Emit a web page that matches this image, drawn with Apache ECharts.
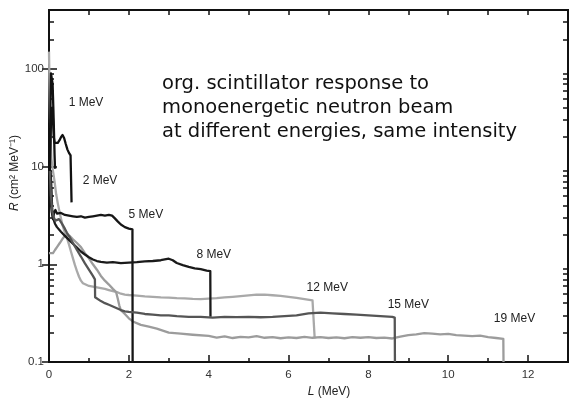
<!DOCTYPE html>
<html>
<head>
<meta charset="utf-8">
<script src="https://cdn.jsdelivr.net/npm/echarts@6/dist/echarts.min.js"></script>
<style>
  html, body { margin: 0; padding: 0; background: #fff; }
  #chart { width: 570px; height: 399px; }
</style>
</head>
<body>
<div id="chart"></div>
<script>
// Pulse-height response R(L) of an organic scintillator for monoenergetic neutrons.
// Each curve: [light output L (MeV), response R (cm^2 MeV^-1)]

const energies = ['1 MeV', '2 MeV', '5 MeV', '8 MeV', '12 MeV', '15 MeV', '19 MeV'];

const resp1 = [
  [0.02, 12], [0.04, 55], [0.05, 90], [0.06, 92], [0.08, 86], [0.09, 70], [0.10, 52],
  [0.11, 38], [0.12, 27], [0.13, 19], [0.14, 13], [0.15, 9.8], [0.16, 9.5]
];

const resp2 = [
  [0.02, 8], [0.05, 30], [0.08, 40], [0.10, 30], [0.12, 20], [0.14, 17.5], [0.18, 17],
  [0.22, 17.5], [0.26, 18.5], [0.30, 20], [0.34, 21], [0.38, 19.5], [0.42, 17],
  [0.46, 15], [0.50, 13.8], [0.54, 13], [0.56, 12.6], [0.565, 4.3]
];

const resp5 = [
  [0.02, 5], [0.04, 9], [0.06, 6], [0.08, 3.6], [0.10, 2.9], [0.13, 3.4], [0.16, 3.6],
  [0.20, 3.3], [0.25, 3.2], [0.30, 3.35], [0.35, 3.3], [0.40, 3.2], [0.50, 3.15],
  [0.60, 3.1], [0.70, 3.05], [0.80, 3.1], [0.90, 3.0], [1.00, 3.05], [1.10, 3.1],
  [1.20, 3.15], [1.30, 3.2], [1.40, 3.15], [1.50, 3.2], [1.58, 3.15], [1.65, 2.95],
  [1.72, 2.75], [1.80, 2.55], [1.90, 2.4], [2.00, 2.32], [2.09, 2.28], [2.095, 0.1]
];

const resp8 = [
  [0.02, 7], [0.04, 4.5], [0.07, 3.4], [0.10, 3.0], [0.15, 2.6], [0.20, 2.4], [0.30, 2.15],
  [0.40, 1.95], [0.50, 1.78], [0.60, 1.62], [0.70, 1.48], [0.80, 1.35], [0.90, 1.26],
  [1.00, 1.18], [1.10, 1.12], [1.20, 1.08], [1.30, 1.06], [1.45, 1.04], [1.60, 1.05],
  [1.80, 1.03], [2.00, 1.04], [2.20, 1.05], [2.40, 1.07], [2.60, 1.08], [2.80, 1.1],
  [3.00, 1.14], [3.10, 1.1], [3.20, 1.03], [3.35, 0.98], [3.50, 0.94], [3.65, 0.91],
  [3.80, 0.89], [3.95, 0.86], [4.04, 0.85], [4.045, 0.29]
];

const resp12 = [
  [0.00, 150], [0.01, 80], [0.03, 25], [0.06, 12], [0.10, 9], [0.14, 7], [0.18, 5.2],
  [0.22, 4.2], [0.28, 3.2], [0.34, 2.5], [0.40, 2.1], [0.45, 1.85], [0.50, 1.6],
  [0.55, 1.35], [0.60, 1.15], [0.65, 0.98], [0.70, 0.85], [0.75, 0.75], [0.80, 0.68],
  [0.85, 0.64], [0.90, 0.62], [1.00, 0.6], [1.10, 0.59], [1.20, 0.58], [1.30, 0.57],
  [1.40, 0.56], [1.50, 0.545], [1.60, 0.53], [1.70, 0.52], [1.80, 0.5], [1.90, 0.49],
  [2.00, 0.485], [2.20, 0.478], [2.40, 0.47], [2.60, 0.465], [2.80, 0.458], [3.00, 0.455],
  [3.20, 0.45], [3.40, 0.447], [3.60, 0.442], [3.80, 0.44], [4.00, 0.445], [4.20, 0.45],
  [4.40, 0.458], [4.60, 0.465], [4.80, 0.472], [5.00, 0.48], [5.20, 0.49], [5.40, 0.488],
  [5.60, 0.482], [5.80, 0.476], [6.00, 0.465], [6.20, 0.452], [6.40, 0.44], [6.60, 0.428],
  [6.65, 0.425], [6.655, 0.175]
];

const resp15 = [
  [0.02, 9], [0.05, 5], [0.08, 3.5], [0.12, 3.0], [0.16, 2.8], [0.20, 2.7], [0.25, 2.9],
  [0.30, 2.7], [0.35, 2.5], [0.40, 2.3], [0.45, 2.1], [0.50, 1.95], [0.60, 1.65],
  [0.70, 1.4], [0.80, 1.2], [0.90, 1.02], [1.00, 0.88], [1.10, 0.76], [1.15, 0.7],
  [1.155, 0.46], [1.20, 0.44], [1.30, 0.42], [1.40, 0.4], [1.50, 0.385], [1.60, 0.37],
  [1.70, 0.355], [1.80, 0.34], [1.90, 0.33], [2.00, 0.325], [2.20, 0.32], [2.40, 0.31],
  [2.60, 0.305], [2.80, 0.3], [3.00, 0.3], [3.20, 0.295], [3.50, 0.29], [3.80, 0.29],
  [4.10, 0.285], [4.40, 0.29], [4.70, 0.288], [5.00, 0.29], [5.30, 0.287], [5.60, 0.29],
  [5.90, 0.295], [6.20, 0.3], [6.50, 0.315], [6.80, 0.32], [7.10, 0.315], [7.40, 0.31],
  [7.70, 0.305], [8.00, 0.3], [8.30, 0.295], [8.60, 0.29], [8.66, 0.285], [8.665, 0.1]
];

const resp19 = [
  [0.00, 1.3], [0.05, 1.25], [0.10, 1.3], [0.15, 1.4], [0.20, 1.5], [0.27, 1.65],
  [0.35, 1.85], [0.42, 2.0], [0.47, 2.05], [0.52, 1.95], [0.60, 1.8], [0.70, 1.65],
  [0.80, 1.5], [0.90, 1.3], [1.00, 1.15], [1.10, 1.0], [1.20, 0.88], [1.30, 0.76],
  [1.40, 0.68], [1.50, 0.62], [1.60, 0.56], [1.68, 0.52], [1.72, 0.45], [1.76, 0.38],
  [1.80, 0.34], [1.90, 0.31], [2.00, 0.28], [2.10, 0.26], [2.30, 0.24], [2.50, 0.23],
  [2.70, 0.22], [3.00, 0.2], [3.30, 0.195], [3.60, 0.19], [4.00, 0.185], [4.20, 0.178],
  [4.40, 0.183], [4.60, 0.176], [4.80, 0.181], [5.00, 0.179], [5.20, 0.184], [5.40, 0.177],
  [5.60, 0.18], [5.80, 0.175], [6.00, 0.179], [6.20, 0.176], [6.40, 0.181], [6.60, 0.177],
  [6.80, 0.18], [7.00, 0.176], [7.20, 0.179], [7.40, 0.175], [7.60, 0.18], [7.80, 0.177],
  [8.00, 0.18], [8.20, 0.176], [8.40, 0.178], [8.60, 0.174], [8.80, 0.182], [9.00, 0.188],
  [9.20, 0.192], [9.40, 0.197], [9.60, 0.195], [9.80, 0.192], [10.00, 0.194], [10.20, 0.188],
  [10.40, 0.186], [10.60, 0.184], [10.80, 0.186], [11.00, 0.18], [11.20, 0.176],
  [11.38, 0.172], [11.385, 0.1]
];

// Where each energy tag sits, in data units [L, R]
const tagAnchors = [
  [0.48, 45], [0.83, 7.2], [1.98, 3.24], [3.68, 1.26], [6.44, 0.57], [8.47, 0.39], [11.13, 0.28]
];

// Tick positions
const xMajorTicks = [0, 2, 4, 6, 8, 10, 12];
const xMinorTicks = [1, 3, 5, 7, 9, 11];
const xTopTicks = [1, 2, 3, 4, 5, 6, 7, 8, 9, 10, 11, 12];
const yMajorTicks = [0.1, 1, 10, 100];
const yMinorTicks = [0.2, 0.3, 0.4, 0.5, 0.6, 0.7, 0.8, 0.9,
                     2, 3, 4, 5, 6, 7, 8, 9,
                     20, 30, 40, 50, 60, 70, 80, 90,
                     200, 300];

const curves = [resp1, resp2, resp5, resp8, resp12, resp15, resp19];
const colours = ['#111111', '#111111', '#161616', '#1a1a1a', '#a9a9a9', '#555555', '#9c9c9c'];

const chart = echarts.init(document.getElementById('chart'), null, { renderer: 'canvas' });

const tickStyle = { color: '#111', width: 1.5 };
const fontFam = '"Liberation Sans", Arial, sans-serif';

// Axes carrying only labels (no ticks)
function xLabelAxis(labels) {
  return {
    type: 'value', min: 0, max: 13, position: 'bottom',
    axisLine: { show: false }, splitLine: { show: false }, axisTick: { show: false },
    axisLabel: { show: true, customValues: labels, color: '#333', fontSize: 11.5, fontFamily: fontFam, margin: 7 }
  };
}
function yLabelAxis(labels) {
  return {
    type: 'log', logBase: 10, min: 0.1, max: 400, position: 'left',
    axisLine: { show: false }, splitLine: { show: false }, axisTick: { show: false }, minorTick: { show: false },
    axisLabel: { show: true, customValues: labels, color: '#333', fontSize: 11.5, fontFamily: fontFam, margin: 5,
                 formatter: v => String(v) }
  };
}
// Axes carrying only inward ticks (no labels)
function xTickAxis(pos, ticks, len) {
  return {
    type: 'value', min: 0, max: 13, position: pos,
    axisLine: { show: false }, splitLine: { show: false }, axisLabel: { show: false },
    axisTick: { show: true, inside: true, length: len, customValues: ticks, lineStyle: tickStyle }
  };
}
function yTickAxis(pos, ticks, len) {
  return {
    type: 'log', logBase: 10, min: 0.1, max: 400, position: pos,
    axisLine: { show: false }, splitLine: { show: false }, axisLabel: { show: false }, minorTick: { show: false },
    axisTick: { show: true, inside: true, length: len, customValues: ticks, lineStyle: tickStyle }
  };
}

const series = curves.map((c, i) => ({
  name: energies[i],
  type: 'line',
  data: c,
  xAxisIndex: 0,
  yAxisIndex: 0,
  showSymbol: false,
  symbol: 'none',
  smooth: false,
  z: i === 4 || i === 6 ? 2 : 3,
  lineStyle: { color: colours[i], width: 2.3, join: 'round' },
  markPoint: {
    symbol: 'circle',
    symbolSize: 1,
    itemStyle: { color: 'rgba(0,0,0,0)' },
    silent: true,
    label: {
      show: true, position: 'right', distance: 0,
      color: '#222', fontSize: 12, fontFamily: fontFam,
      formatter: energies[i]
    },
    data: [{ coord: tagAnchors[i] }]
  }
}));

chart.setOption({
  animation: false,
  backgroundColor: '#fff',
  grid: {
    left: 49, top: 10, width: 519, height: 352,
    show: true, borderColor: '#111', borderWidth: 2, backgroundColor: 'transparent'
  },
  xAxis: [
    xLabelAxis(xMajorTicks),
    xTickAxis('bottom', xMajorTicks, 7),
    xTickAxis('bottom', xMinorTicks, 4),
    xTickAxis('top', xTopTicks, 5)
  ],
  yAxis: [
    yLabelAxis(yMajorTicks),
    yTickAxis('left', yMajorTicks, 8),
    yTickAxis('left', yMinorTicks, 5),
    yTickAxis('right', yMajorTicks, 7),
    yTickAxis('right', yMinorTicks, 5)
  ],
  series: series,
  graphic: [
    {
      type: 'text', left: 162, top: 72,
      style: {
        text: 'org. scintillator response to\nmonoenergetic neutron beam\nat different energies, same intensity',
        font: '19.5px "DejaVu Sans"', fill: '#111', lineHeight: 24
      }
    },
    {
      type: 'text', x: 329, y: 392,
      style: {
        text: '{i|L} (MeV)', fill: '#222', align: 'center', verticalAlign: 'middle',
        font: '12px "Liberation Sans"',
        rich: { i: { fontStyle: 'italic', fontSize: 12, fontFamily: 'Liberation Sans', fill: '#222' } }
      }
    },
    {
      type: 'text', x: 15, y: 173, rotation: Math.PI / 2,
      style: {
        text: '{i|R} (cm² MeV⁻¹)', fill: '#222', align: 'center', verticalAlign: 'middle',
        font: '12px "Liberation Sans"',
        rich: { i: { fontStyle: 'italic', fontSize: 12, fontFamily: 'Liberation Sans', fill: '#222' } }
      }
    }
  ]
});
</script>
</body>
</html>
